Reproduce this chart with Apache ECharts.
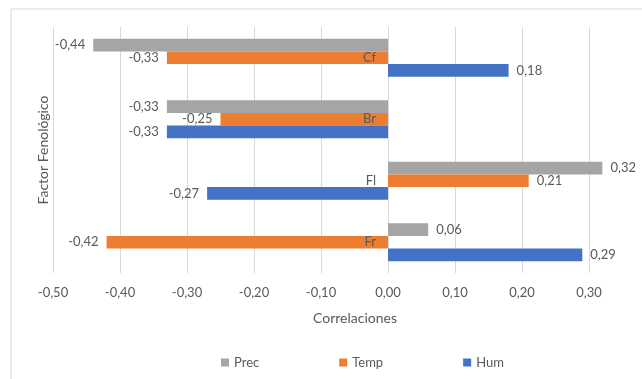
<!DOCTYPE html>
<html><head><meta charset="utf-8">
<script src="https://cdn.jsdelivr.net/npm/echarts@6/dist/echarts.min.js"></script>
<style>html,body{margin:0;padding:0;background:#fff}#c{width:642px;height:379px}</style>
</head><body><div id="c"></div>
<script>
const categories = ['Cf', 'Br', 'Fl', 'Fr'];
const prec = [-0.44, -0.33, 0.32, 0.06];
const temp = [-0.33, -0.25, 0.21, -0.42];
const hum = [0.18, -0.33, -0.27, 0.29];
const seriesNames = ['Prec', 'Temp', 'Hum'];
const xTicks = [-0.5, -0.4, -0.3, -0.2, -0.1, 0, 0.1, 0.2, 0.3];

const FONT = 'Lato, "Open Sans", sans-serif';
const TXT = '#595959';
const fmt = v => v.toFixed(2).replace('.', ',');

function mk(name, data, color) {
  return {
    name, type: 'bar', clip: false,
    barGap: '0%', barCategoryGap: '38%',
    itemStyle: { color },
    data: data.map(v => ({
      value: v,
      label: { show: true, position: v < 0 ? 'left' : 'right', distance: 8,
        formatter: p => fmt(p.value), color: TXT, fontSize: 13, fontFamily: FONT }
    }))
  };
}

const chart = echarts.init(document.getElementById('c'), null, { renderer: 'canvas' });
chart.setOption({
  animation: false,
  grid: { left: 53, right: 53, top: 27, bottom: 106, containLabel: false },
  xAxis: {
    type: 'value', min: xTicks[0], max: xTicks[xTicks.length - 1], interval: 0.1,
    axisLine: { show: false }, axisTick: { show: false },
    splitLine: { lineStyle: { color: '#d9d9d9' } },
    axisLabel: { color: TXT, fontSize: 13, fontFamily: FONT, margin: 13, formatter: v => fmt(v) }
  },
  yAxis: {
    type: 'category', data: categories, inverse: true, z: 10, position: 'left', offset: -335,
    axisLine: { show: false },
    axisTick: { show: false },
    axisLabel: { color: TXT, fontSize: 13, fontFamily: FONT, margin: 12 }
  },
  legend: {
    bottom: 5, left: 216, icon: 'rect', itemWidth: 8, itemHeight: 8, itemGap: 80,
    data: seriesNames,
    textStyle: { color: TXT, fontSize: 13, fontFamily: FONT }
  },
  series: [
    mk(seriesNames[0], prec, '#A5A5A5'),
    mk(seriesNames[1], temp, '#ED7D31'),
    mk(seriesNames[2], hum, '#4472C4')
  ],
  graphic: [
    { type: 'rect', shape: { x: 11, y: 9, width: 700, height: 400 }, style: { fill: 'none', stroke: '#d9d9d9', lineWidth: 1 }, z: -1 },
    { type: 'text', x: 355, y: 318, style: { text: 'Correlaciones', fill: TXT, font: '14px ' + FONT, align: 'center', verticalAlign: 'middle' } },
    { type: 'text', x: 43, y: 150, rotation: Math.PI / 2, style: { text: 'Factor Fenológico', fill: TXT, font: '14px ' + FONT, align: 'center', verticalAlign: 'middle' } }
  ]
});
</script></body></html>
